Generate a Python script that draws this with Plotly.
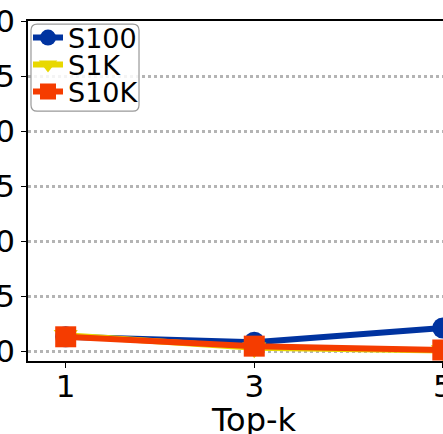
import plotly.graph_objects as go

topk = [1, 3, 5]
s100 = [1.3, 0.8, 2.1]
s1k = [1.45, 0.3, 0.05]
s10k = [1.3, 0.45, 0.1]
names = ["S100", "S1K", "S10K"]
colors = ["#0033a0", "#e8d800", "#f53c00"]
symbols = ["circle", "triangle-down", "square"]
yticks = [0, 5, 10, 15, 20, 25, 30]
x_title = "Top-k"

legend_ids = ["legend", "legend2", "legend3"]
legend_rows = [0.95, 0.8706, 0.7912]

fig = go.Figure()
for name, vals, col, sym, lid in zip(names, [s100, s1k, s10k], colors, symbols, legend_ids):
    fig.add_trace(go.Scatter(
        x=topk, y=vals, name=name, mode="lines+markers",
        line=dict(color=col, width=6),
        marker=dict(color=col, size=21, symbol=sym),
        cliponaxis=False, legend=lid,
    ))

legend_common = dict(
    xanchor="left", yanchor="middle", bgcolor="rgba(0,0,0,0)",
    borderwidth=0, font=dict(size=27), itemwidth=30,
)
layout_legends = {}
for lid, ry in zip(legend_ids, legend_rows):
    layout_legends[lid] = dict(x=0.0, y=ry, **legend_common)

# rounded legend frame
x0, x1, y0, y1, r = 0.0072, 0.2675, 0.735, 0.991, 0.015
ry_ = r * 415 / 340
frame = (f"M {x0+r},{y1} L {x1-r},{y1} Q {x1},{y1} {x1},{y1-ry_} "
         f"L {x1},{y0+ry_} Q {x1},{y0} {x1-r},{y0} L {x0+r},{y0} "
         f"Q {x0},{y0} {x0},{y0+ry_} L {x0},{y1-ry_} Q {x0},{y1} {x0+r},{y1} Z")

fig.update_layout(
    width=443, height=434,
    margin=dict(l=28, r=0, t=21, b=73, autoexpand=False),
    plot_bgcolor="white", paper_bgcolor="white",
    font=dict(family="DejaVu Sans", size=31, color="black"),
    showlegend=True,
    shapes=[dict(type="path", path=frame, xref="paper", yref="paper",
                 fillcolor="rgba(255,255,255,0.85)",
                 line=dict(color="#999999", width=1.2), layer="above")],
    annotations=[dict(text=x_title, x=3, xref="x", y=-0.111, yref="paper",
                      xanchor="center", yanchor="top", showarrow=False,
                      font=dict(size=32))],
    **layout_legends,
)
fig.update_xaxes(
    range=[0.6, 5.002], tickvals=topk, ticktext=[str(v) for v in topk],
    showgrid=False, zeroline=False, automargin=False,
    showline=True, linecolor="black", linewidth=1.5, mirror=True,
    ticks="outside", ticklen=5, tickcolor="black",
    ticklabeloverflow="allow", ticklabelstandoff=-8,
)
fig.update_yaxes(
    range=[-0.9, 30], tickvals=yticks, ticktext=[str(v) for v in yticks],
    showgrid=True, gridcolor="#b4b4b4", gridwidth=3, griddash="dot",
    zeroline=False, automargin=False,
    showline=True, linecolor="black", linewidth=1.5, mirror=True,
    ticks="outside", ticklen=5, tickcolor="black",
    ticklabeloverflow="allow",
)
fig.write_html("out.html", config={"displayModeBar": False},
               post_script="document.body.style.margin='0';")
